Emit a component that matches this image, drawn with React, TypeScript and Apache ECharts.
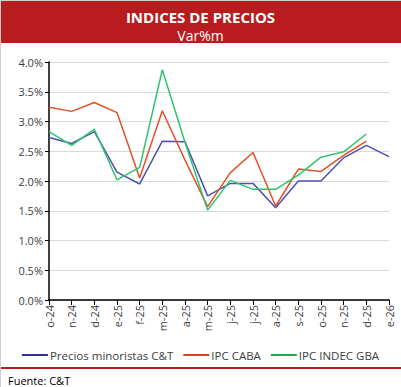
import React, { useEffect, useRef } from "react";
import * as echarts from "echarts";

const categories = ["o-24","n-24","d-24","e-25","f-25","m-25","a-25","m-25","j-25","j-25","a-25","s-25","o-25","n-25","d-25","e-26"];
const preciosCT = [2.73, 2.63, 2.83, 2.15, 1.95, 2.67, 2.66, 1.75, 1.96, 1.96, 1.55, 2.0, 2.0, 2.39, 2.6, 2.41];
const ipcCABA = [3.24, 3.17, 3.32, 3.15, 2.05, 3.18, 2.35, 1.57, 2.14, 2.48, 1.58, 2.2, 2.16, 2.43, 2.67, null];
const ipcINDEC = [2.83, 2.6, 2.87, 2.02, 2.23, 3.87, 2.65, 1.51, 2.01, 1.86, 1.86, 2.1, 2.4, 2.49, 2.79, null];
const seriesNames = ["Precios minoristas C&T", "IPC CABA", "IPC INDEC GBA"];

const FONT = "Open Sans";

export default function App() {
  const ref = useRef<HTMLDivElement>(null);
  useEffect(() => {
    const chart = echarts.init(ref.current!, null, { renderer: "svg" });
    const mk = (name: string, data: (number | null)[], color: string) => ({
      name,
      type: "line",
      data,
      symbol: "none",
      showSymbol: false,
      lineStyle: { width: 1.5, color },
      itemStyle: { color },
      connectNulls: false,
    });
    chart.setOption({
      animation: false,
      backgroundColor: "transparent",
      title: [
        {
          text: "INDICES DE PRECIOS",
          left: "center",
          top: 4,
          textStyle: { color: "#ffffff", fontSize: 15, fontWeight: "bold", fontFamily: FONT },
        },
        {
          text: "Var%m",
          left: "center",
          top: 23,
          textStyle: { color: "#ffffff", fontSize: 14, fontWeight: "normal", fontFamily: FONT },
        },
        {
          text: "Fuente: C&T",
          left: 3,
          top: 370,
          textStyle: { color: "#000000", fontSize: 11, fontWeight: "normal", fontFamily: FONT },
        },
      ],
      graphic: [
        { type: "rect", z: -1, shape: { x: 1, y: 1, width: 400, height: 42 }, style: { fill: "#B81C1F" } },
        { type: "rect", z: -1, shape: { x: 1, y: 367, width: 400, height: 2 }, style: { fill: "#B81C1F" } },
      ],
      legend: {
        top: 344,
        left: "center",
        itemWidth: 26,
        itemHeight: 2,
        itemGap: 10,
        icon: "rect",
        textStyle: { color: "#404040", fontSize: 11.5, fontFamily: FONT, padding: [0, 0, 0, -3] },
        data: [
          { name: seriesNames[0], itemStyle: { color: "#2E3192" } },
          { name: seriesNames[1], itemStyle: { color: "#D9441C" } },
          { name: seriesNames[2], itemStyle: { color: "#1FA84F" } },
        ],
      },
      grid: { left: 49, top: 62, right: 12, bottom: 87, containLabel: false },
      xAxis: {
        type: "category",
        data: categories,
        boundaryGap: false,
        axisLine: { show: true, lineStyle: { color: "#000000", width: 1.5 } },
        axisTick: { show: true, alignWithLabel: true, interval: 0, length: 5, lineStyle: { color: "#000000" } },
        axisLabel: { rotate: 90, interval: 0, color: "#404040", fontSize: 11, fontFamily: FONT, margin: 5 },
        splitLine: { show: false },
      },
      yAxis: {
        type: "value",
        min: 0,
        max: 4,
        interval: 0.5,
        axisLine: { show: true, lineStyle: { color: "#000000", width: 1.5 } },
        axisTick: { show: true, length: 4, lineStyle: { color: "#000000" } },
        axisLabel: {
          color: "#404040",
          fontSize: 11,
          fontFamily: FONT,
          margin: 6,
          formatter: (v: number) => v.toFixed(1) + "%",
        },
        splitLine: { show: true, lineStyle: { color: "#D9D9D9", width: 1 } },
      },
      series: [
        mk(seriesNames[0], preciosCT, "#5050B0"),
        mk(seriesNames[1], ipcCABA, "#E2502A"),
        mk(seriesNames[2], ipcINDEC, "#2EC46E"),
      ],
    });
    return () => chart.dispose();
  }, []);
  return (
    <div
      style={{
        position: "fixed",
        left: 0,
        top: 0,
        width: 401,
        height: 387,
        boxSizing: "border-box",
        borderLeft: "1px solid #D0D0D0",
        borderTop: "1px solid #D0D0D0",
        background: "#fff",
      }}
    >
      <div ref={ref} style={{ width: 401, height: 387, position: "absolute", left: -1, top: -1 }} />
    </div>
  );
}
